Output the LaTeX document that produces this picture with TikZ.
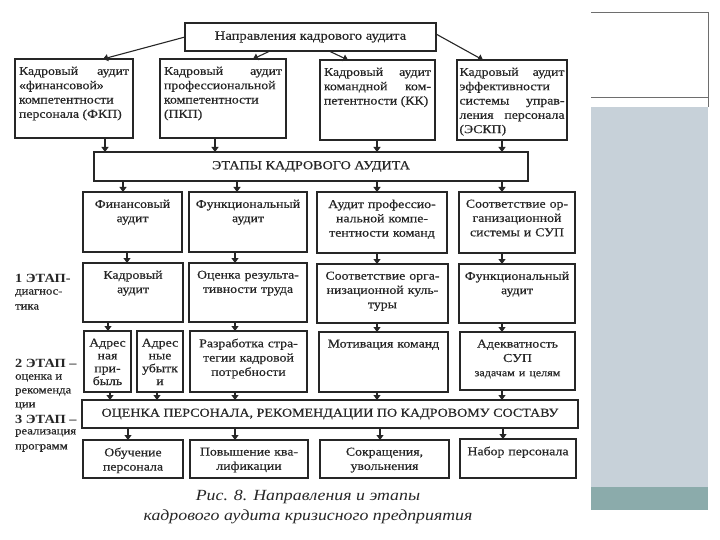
\documentclass[tikz,border=0pt]{standalone}
\usepackage{fontspec}
\setmainfont{Liberation Serif}[FakeStretch=1.15]
\newfontfamily\boxfont{Liberation Serif}[FakeStretch=1.15, FakeBold=0.5]
\usetikzlibrary{arrows.meta,calc}
\definecolor{ink}{HTML}{262626}
\definecolor{panelblue}{HTML}{C7D1D9}
\definecolor{panelteal}{HTML}{8BABAB}
\definecolor{panelline}{HTML}{6E6E6E}
\newcommand\bxx[5]{\node[box, minimum width={#4-#2}, minimum height={#5-#3}] (#1) at ({(#2+#4)/2},{(#3+#5)/2}) {};}
\newcommand\bxt[4][]{\node[txt, text width=#3, #1] (#2t) at ([yshift=-7.5pt]#2.north) {#4};}
\begin{document}
\begin{tikzpicture}[x=1pt,y=-1pt,
  box/.style={draw=ink, line width=1.6pt, inner sep=0pt, outer sep=0pt},
  txt/.style={text=ink, font=\boxfont\fontsize{12}{14.3}\selectfont, inner sep=0pt, anchor=north, align=center},
  jtxt/.style={align=justify},
  arr/.style={draw=ink, line width=1.1pt, -{Triangle[length=5pt,width=7pt]}},
  lab/.style={text=ink, anchor=west, inner sep=0pt, font=\boxfont\fontsize{11}{12}\selectfont},
  blab/.style={lab, font=\fontsize{12.5}{13}\selectfont\bfseries},
]
\useasboundingbox (0,0) rectangle (720,540);

% right panel
\draw[panelline, line width=0.8pt] (591,12) -- (708,12) -- (708,107);
\draw[panelline, line width=0.8pt] (591,97) -- (708,97);
\fill[panelblue] (591,107) rectangle (708,487);
\fill[panelteal] (591,487) rectangle (708,510);

% boxes
\node[box, minimum width=251, minimum height=28, text=ink, font=\boxfont\fontsize{12.7}{14}\selectfont] (top) at (310.5,37) {Направления кадрового аудита};
\bxx{b1}{15}{59}{133}{138}
\bxx{b2}{160}{59}{286}{138}
\bxx{b3}{320}{60}{435}{140}
\bxx{b4}{457}{60}{567}{140}
\node[box, minimum width=434, minimum height=29, text=ink, font=\boxfont\fontsize{12.3}{14}\selectfont] (et) at (311,166.5) {ЭТАПЫ КАДРОВОГО АУДИТА};
\bxx{r3a}{83}{192}{182}{252}
\bxx{r3b}{189}{192}{307}{252}
\bxx{r3c}{317}{192}{447}{253}
\bxx{r3d}{459}{192}{575}{253}
\bxx{r4a}{83}{263}{183}{322}
\bxx{r4b}{189}{263}{307}{322}
\bxx{r4c}{317}{264}{448}{323}
\bxx{r4d}{459}{264}{575}{323}
\bxx{r5a}{84}{331}{131}{392}
\bxx{r5b}{137}{331}{183}{392}
\bxx{r5c}{190}{331}{307}{392}
\bxx{r5d}{319}{332}{448}{392}
\bxx{r5e}{460}{332}{575}{390}
\node[box, minimum width=496, minimum height=28, text=ink, font=\boxfont\fontsize{12.2}{14}\selectfont] (oc) at (330,414) {ОЦЕНКА ПЕРСОНАЛА, РЕКОМЕНДАЦИИ ПО КАДРОВОМУ СОСТАВУ};
\bxx{r7a}{83}{440}{183}{478}
\bxx{r7b}{190}{440}{308}{478}
\bxx{r7c}{320}{440}{449}{478}
\bxx{r7d}{460}{439}{576}{478}

% texts
\bxt[jtxt]{b1}{110}{Кадровый аудит\linebreak «финансовой»\linebreak компетентности\linebreak персонала (ФКП)}
\bxt[jtxt]{b2}{118}{Кадровый аудит\linebreak профессиональной\linebreak компетентности\linebreak (ПКП)}
\bxt[jtxt]{b3}{107}{Кадровый аудит\linebreak командной ком-\linebreak петентности (КК)}
\bxt[jtxt]{b4}{105}{Кадровый аудит\linebreak эффективности\linebreak системы управ-\linebreak ления персонала\linebreak (ЭСКП)}
\bxt{r3a}{95}{Финансовый\\аудит}
\bxt{r3b}{114}{Функциональный\\аудит}
\bxt{r3c}{126}{Аудит профессио-\\нальной компе-\\тентности команд}
\bxt{r3d}{112}{Соответствие ор-\\ганизационной\\системы и СУП}
\bxt{r4a}{96}{Кадровый\\аудит}
\bxt{r4b}{114}{Оценка результа-\\тивности труда}
\bxt{r4c}{127}{Соответствие орга-\\низационной куль-\\туры}
\bxt{r4d}{112}{Функциональный\\аудит}
\bxt[font=\boxfont\fontsize{12}{12.8}\selectfont]{r5a}{45}{Адрес\\ная\\при-\\быль}
\bxt[font=\boxfont\fontsize{12}{12.8}\selectfont]{r5b}{44}{Адрес\\ные\\убытк\\и}
\bxt{r5c}{113}{Разработка стра-\\тегии кадровой\\потребности}
\bxt{r5d}{125}{Мотивация команд}
\bxt{r5e}{111}{Адекватность\\СУП\\{\fontsize{10.5}{12}\selectfont задачам и целям}}
\bxt{r7a}{96}{Обучение\\персонала}
\bxt{r7b}{114}{Повышение ква-\\лификации}
\bxt{r7c}{125}{Сокращения,\\увольнения}
\bxt{r7d}{112}{Набор персонала}

% arrows row 1
\draw[arr] (top.west) -- (103,0 |- b1.north);
\draw[arr] (270,0 |- top.south) -- (253,0 |- b2.north);
\draw[arr] (329,0 |- top.south) -- (348,0 |- b3.north);
\draw[arr] ([yshift=3pt]top.east) -- (483,0 |- b4.north);
% to stages
\draw[arr] (105,0 |- b1.south) -- (105,0 |- et.north);
\draw[arr] (215,0 |- b2.south) -- (215,0 |- et.north);
\draw[arr] (377,0 |- b3.south) -- (377,0 |- et.north);
\draw[arr] (502,0 |- b4.south) -- (502,0 |- et.north);
% stages to row 3
\draw[arr] (123,0 |- et.south) -- (123,0 |- r3a.north);
\draw[arr] (237,0 |- et.south) -- (237,0 |- r3b.north);
\draw[arr] (377,0 |- et.south) -- (377,0 |- r3c.north);
\draw[arr] (502,0 |- et.south) -- (502,0 |- r3d.north);
% row 3 to row 4
\draw[arr] (127,0 |- r3a.south) -- (127,0 |- r4a.north);
\draw[arr] (235,0 |- r3b.south) -- (235,0 |- r4b.north);
\draw[arr] (377,0 |- r3c.south) -- (377,0 |- r4c.north);
\draw[arr] (502,0 |- r3d.south) -- (502,0 |- r4d.north);
% row 4 to row 5
\draw[arr] (108,0 |- r4a.south) -- (108,0 |- r5a.north);
\draw[arr] (235,0 |- r4b.south) -- (235,0 |- r5c.north);
\draw[arr] (377,0 |- r4c.south) -- (377,0 |- r5d.north);
\draw[arr] (502,0 |- r4d.south) -- (502,0 |- r5e.north);
% row 5 to assessment
\draw[arr] (110,0 |- r5a.south) -- (110,0 |- oc.north);
\draw[arr] (157,0 |- r5b.south) -- (157,0 |- oc.north);
\draw[arr] (235,0 |- r5c.south) -- (235,0 |- oc.north);
\draw[arr] (377,0 |- r5d.south) -- (377,0 |- oc.north);
\draw[arr] (502,0 |- r5e.south) -- (502,0 |- oc.north);
% assessment to row 7
\draw[arr] (128,0 |- oc.south) -- (128,0 |- r7a.north);
\draw[arr] (235,0 |- oc.south) -- (235,0 |- r7b.north);
\draw[arr] (380,0 |- oc.south) -- (380,0 |- r7c.north);
\draw[arr] (503,0 |- oc.south) -- (503,0 |- r7d.north);

% left stage labels
\node[blab] (l1a) at (15,278) {1 ЭТАП-};
\node[lab] (l1b) at (15,293) {диагнос-};
\node[lab] (l1c) at (15,307) {тика};
\node[blab] (l2a) at (15,363) {2 ЭТАП –};
\node[lab] (l2b) at (15,378) {оценка и};
\node[lab] (l2c) at (15,392) {рекоменда};
\node[lab] (l2d) at (15,406) {ции};
\node[blab] (l3a) at (15,419) {3 ЭТАП –};
\node[lab] (l3b) at (15,433) {реализация};
\node[lab] (l3c) at (15,448) {программ};

% caption
\node[text=ink, font=\itshape\fontsize{15.5}{20}\selectfont, align=center, inner sep=0pt] (cap) at (308,507) {Рис. 8. Направления и этапы\\кадрового аудита кризисного предприятия};
\end{tikzpicture}
\end{document}
